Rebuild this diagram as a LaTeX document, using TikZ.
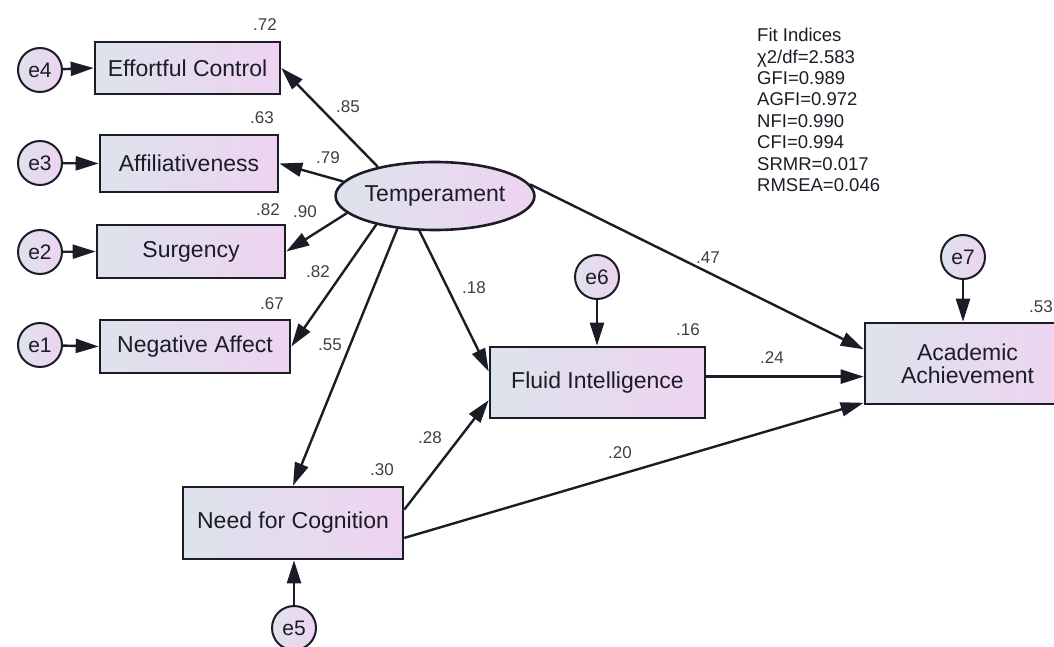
\documentclass[tikz,border=0pt]{standalone}
\usepackage{fontspec}
\setmainfont{Liberation Sans}
\usetikzlibrary{arrows.meta,shapes.geometric,calc}
\definecolor{lo}{RGB}{221,227,236}
\definecolor{hi}{RGB}{238,211,241}
\definecolor{ink}{RGB}{28,28,38}
\begin{document}
\begin{tikzpicture}[x=1pt,y=-1pt,
  var/.style={draw=ink, line width=2.6pt, left color=lo, right color=hi, font=\fontsize{23}{26}\selectfont, text=ink, inner sep=0pt, align=center},
  err/.style={circle, draw=ink, line width=2pt, left color=lo, right color=hi, minimum size=44pt, inner sep=0pt, font=\fontsize{21}{24}\selectfont, text=ink},
  lbl/.style={font=\fontsize{17}{20}\selectfont, text=ink!85},
  arr/.style={draw=ink, line width=2.4pt, -{Triangle[length=23pt,width=14pt]}}]
\useasboundingbox (0,0) rectangle (1054,647);
% observed variables
\node[var, minimum width=185pt, minimum height=52pt] (ec) at (187.5,68) {Effortful Control};
\node[var, minimum width=178pt, minimum height=57pt] (aff) at (189,163.5) {Affiliativeness};
\node[var, minimum width=188pt, minimum height=53pt] (surg) at (191,251.5) {Surgency};
\node[var, minimum width=190pt, minimum height=53pt] (na) at (195,346.5) {Negative Affect};
\node[var, minimum width=220pt, minimum height=72pt] (nfc) at (293,523) {Need for Cognition};
\node[var, minimum width=215pt, minimum height=71pt] (fluid) at (597.5,382.5) {Fluid Intelligence};
\node[var, minimum width=205pt, minimum height=81pt, text width=190pt] (acad) at (967.5,363.5) {Academic\\[-3pt]Achievement};
\node[var, ellipse, minimum width=184pt, minimum height=68pt] (temp) at (435,196) {Temperament};
% errors
\node[err] (e4) at (40,70) {e4};
\node[err] (e3) at (40,163) {e3};
\node[err] (e2) at (40,252) {e2};
\node[err] (e1) at (40,345) {e1};
\node[err] (e6) at (597,277) {e6};
\node[err] (e7) at (963,257) {e7};
\node[err] (e5) at (294,628) {e5};
% error arrows
\draw[arr] (e4) -- (ec.west);
\draw[arr] (e3) -- (aff.west);
\draw[arr] (e2) -- (surg.west);
\draw[arr] (e1) -- (na.west);
\draw[arr] (e6) -- (fluid.north -| e6);
\draw[arr] (e7) -- (acad.north -| e7);
\draw[arr] (e5) -- (nfc.south -| e5);
% structural paths
\draw[arr] (temp.153) -- (ec.east);
\draw[arr] (temp.171) -- (aff.east);
\draw[arr] (temp.191) -- (surg.east);
\draw[arr] (temp.206) -- (na.east);
\draw[arr] (temp.221) -- (nfc.north);
\draw[arr] (temp.246) -- ($(fluid.north west)!0.35!(fluid.south west)$);
\draw[arr] (temp.7) -- ($(acad.north west)!0.33!(acad.south west)$);
\coordinate (fo) at ($(fluid.north east)!0.42!(fluid.south east)$);
\draw[arr] (fo) -- (acad.west |- fo);
\draw[arr] ($(nfc.north east)!0.32!(nfc.south east)$) -- ($(fluid.north west)!0.74!(fluid.south west)$);
\draw[arr] ($(nfc.north east)!0.7!(nfc.south east)$) -- ($(acad.north west)!0.97!(acad.south west)$);
% labels
\node[lbl] (l72) at (265,25) {.72};
\node[lbl] (l63) at (262,118) {.63};
\node[lbl] (l82a) at (268,210) {.82};
\node[lbl] (l90) at (305,212) {.90};
\node[lbl] (l82b) at (318,272) {.82};
\node[lbl] (l67) at (272,304) {.67};
\node[lbl] (l55) at (330,345) {.55};
\node[lbl] (l85) at (348,107) {.85};
\node[lbl] (l79) at (328,158) {.79};
\node[lbl] (l18) at (474,288) {.18};
\node[lbl] (l47) at (708,258) {.47};
\node[lbl] (l16) at (688,330) {.16};
\node[lbl] (l24) at (772,358) {.24};
\node[lbl] (l30) at (382,470) {.30};
\node[lbl] (l28) at (430,438) {.28};
\node[lbl] (l20) at (620,453) {.20};
\node[lbl, anchor=east, inner xsep=1pt] (l53) at (1054,307) {.53};
% fit indices
\node[anchor=north west, align=left, inner sep=0pt, text=ink, font=\fontsize{18.5}{21.4}\selectfont] (fit) at (757,28) {Fit Indices\\χ2/df=2.583\\GFI=0.989\\AGFI=0.972\\NFI=0.990\\CFI=0.994\\SRMR=0.017\\RMSEA=0.046};
\end{tikzpicture}
\end{document}
